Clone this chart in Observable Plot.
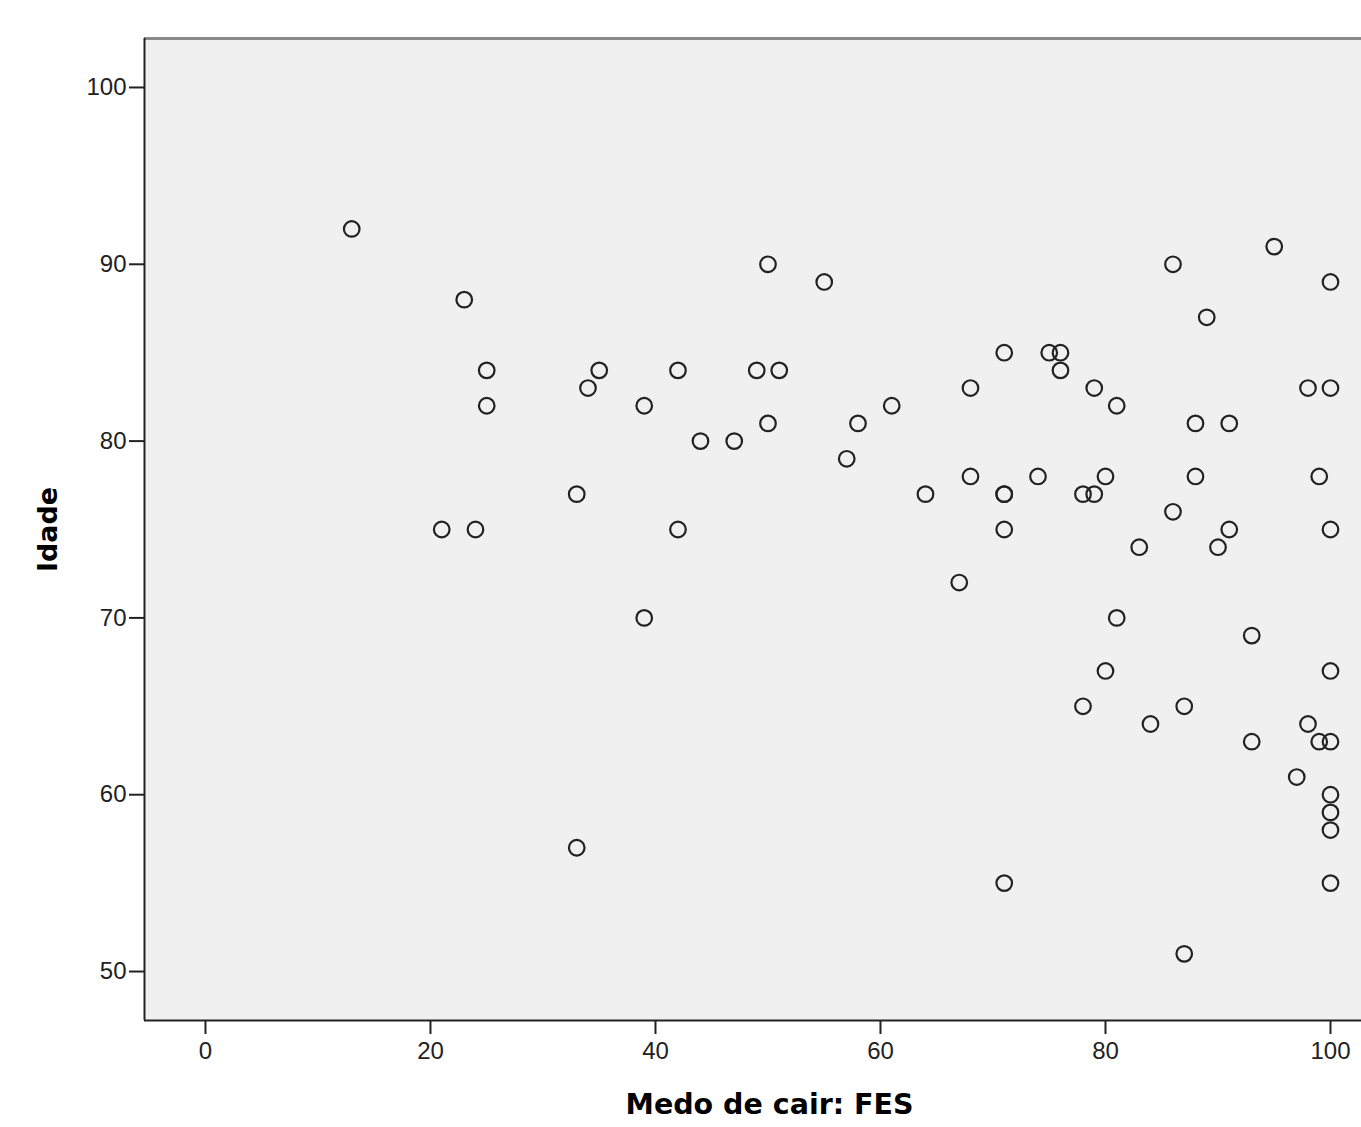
<!DOCTYPE html>
<html>
<head>
<meta charset="utf-8">
<script src="https://cdn.jsdelivr.net/npm/d3@7"></script>
<script src="https://cdn.jsdelivr.net/npm/@observablehq/plot@0.6"></script>
<style>
  html, body { margin: 0; padding: 0; background: #fff; overflow: hidden; }
  #chart { width: 1394px; }
  #chart svg { display: block; max-width: none !important; width: 1394px; height: 1127px; }
</style>
</head>
<body>
<div id="chart"></div>
<script>
// Medo de cair: FES (x) vs Idade (y)
const fes = [13,23,25,25,21,24,33,34,35,33,39,39,42,42,44,47,49,50,50,51,55,57,58,61,64,67,68,68,71,71,71,71,71,74,75,76,76,78,79,79,78,80,80,81,81,83,84,86,86,87,87,88,88,89,90,91,91,93,93,95,97,98,98,99,99,100,100,100,100,100,100,100,100,100];
const idade = [92,88,84,82,75,75,77,83,84,57,82,70,84,75,80,80,84,90,81,84,89,79,81,82,77,72,83,78,85,77,77,75,55,78,85,85,84,77,77,83,65,78,67,82,70,74,64,90,76,65,51,81,78,87,74,81,75,69,63,91,61,83,64,78,63,89,83,75,67,63,60,59,58,55];
const xTicks = [0, 20, 40, 60, 80, 100];
const yTicks = [50, 60, 70, 80, 90, 100];
const xTitle = "Medo de cair: FES";
const yTitle = "Idade";

const xDomain = [-5.42, 105.69];
const yDomain = [47.23, 102.77];

const data = fes.map((f, i) => ({fes: f, idade: idade[i]}));

const chart = Plot.plot({
  width: 1394,
  height: 1127,
  marginLeft: 144,
  marginRight: 0,
  marginTop: 38,
  marginBottom: 107,
  style: {background: "#fff", fontFamily: "'Liberation Sans', Arial, sans-serif", maxWidth: "none"},
  x: {domain: xDomain},
  y: {domain: yDomain},
  marks: [
    Plot.frame({fill: "#f0f0f0", stroke: null}),
    Plot.ruleY([yDomain[1]], {stroke: "#8a8a8a", strokeWidth: 3}),
    Plot.ruleX([xDomain[0]], {stroke: "#222", strokeWidth: 2}),
    Plot.ruleY([yDomain[0]], {stroke: "#222", strokeWidth: 2}),
    Plot.axisX({ticks: xTicks, tickSize: 14, tickPadding: 7, tickFormat: d => String(d), label: null, fontSize: 24, color: "#222", strokeWidth: 2}),
    Plot.axisY({ticks: yTicks, tickSize: 15, tickPadding: 3, tickFormat: d => String(d), label: null, fontSize: 24, color: "#222", strokeWidth: 2}),
    Plot.dot(data, {x: "fes", y: "idade", r: 7.8, stroke: "#222", strokeWidth: 2.2, fill: "none"}),
    Plot.text([xTitle], {frameAnchor: "bottom", dx: 0, dy: 84, text: d => d, fontSize: 28.5, fontWeight: "bold", fontFamily: "'DejaVu Sans', sans-serif", fill: "#000", lineAnchor: "middle", textAnchor: "middle"}),
    Plot.text([yTitle], {frameAnchor: "left", dx: -96, text: d => d, rotate: -90, fontSize: 27, fontWeight: "bold", fontFamily: "'DejaVu Sans', sans-serif", fill: "#000", lineAnchor: "middle", textAnchor: "middle"})
  ]
});
document.getElementById("chart").appendChild(chart);
</script>
</body>
</html>
